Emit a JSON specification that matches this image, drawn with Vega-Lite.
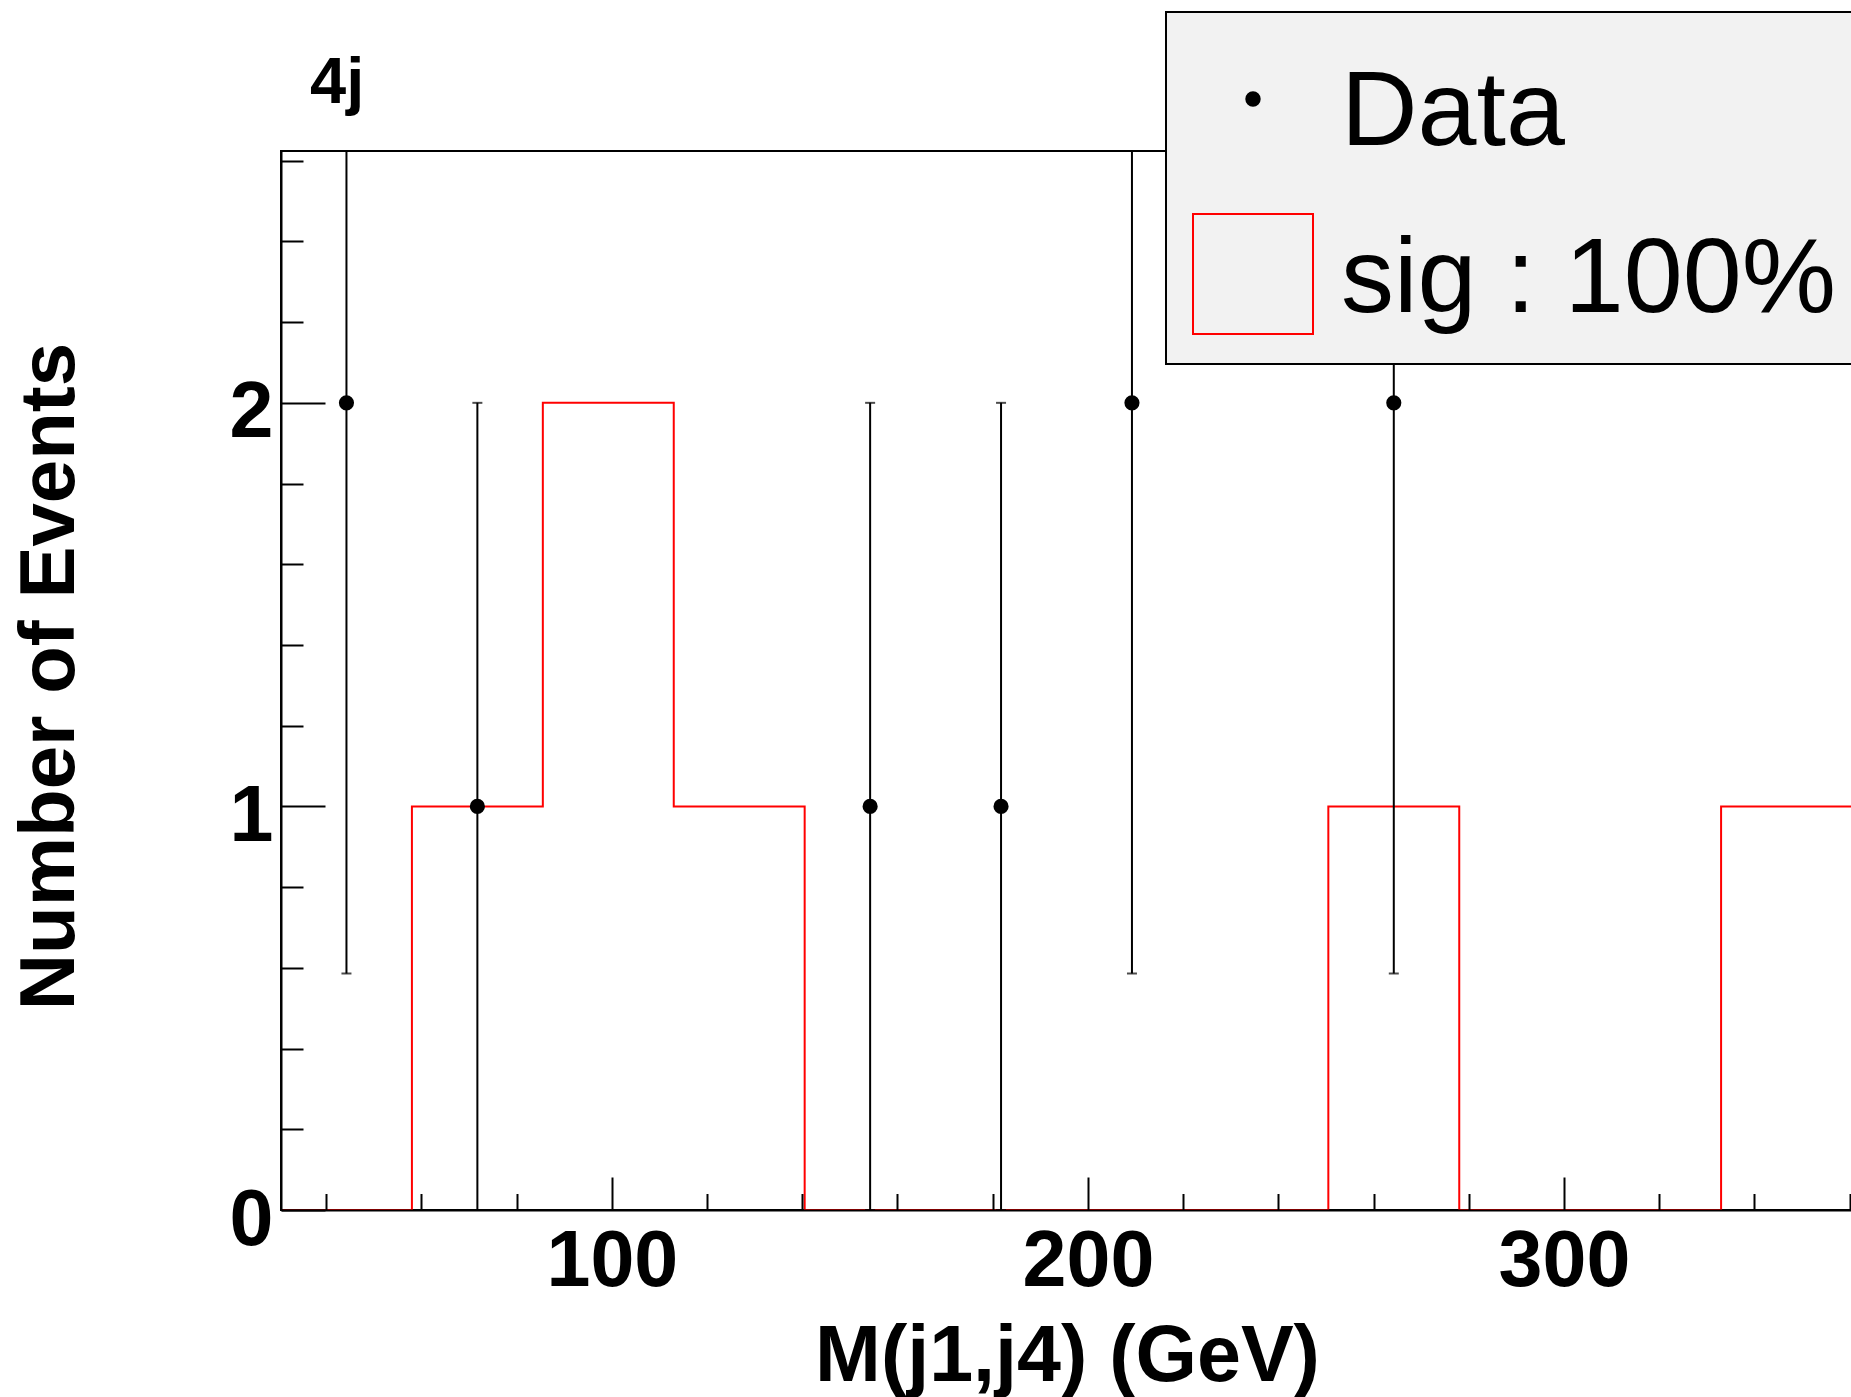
{
  "$schema": "https://vega.github.io/schema/vega-lite/v6.json",
  "width": 1571,
  "height": 1059,
  "autosize": {"type": "none"},
  "padding": {"left": 281, "top": 151, "right": 0, "bottom": 187},
  "background": "white",
  "config": {"view": {"stroke": "black", "strokeWidth": 2}, "font": "Liberation Sans"},
  "title": {"text": "4j", "anchor": "start", "frame": "group", "font": "Liberation Sans", "fontSize": 65, "fontWeight": "bold", "color": "black", "baseline": "alphabetic", "offset": 42, "dx": 29, "dy": 199},
  "datasets": {
    "sig": [
      {"m": 30.5, "n": 0}, {"m": 58, "n": 1}, {"m": 85.5, "n": 2}, {"m": 113, "n": 1},
      {"m": 140.5, "n": 0}, {"m": 168, "n": 0}, {"m": 195.5, "n": 0}, {"m": 223, "n": 0},
      {"m": 250.5, "n": 1}, {"m": 278, "n": 0}, {"m": 305.5, "n": 0}, {"m": 333, "n": 1},
      {"m": 360.5, "n": 1}
    ],
    "obs": [
      {"m": 44.25, "n": 2, "lo": 0.586, "hi": 3.414},
      {"m": 71.75, "n": 1, "lo": 0, "hi": 2},
      {"m": 154.25, "n": 1, "lo": 0, "hi": 2},
      {"m": 181.75, "n": 1, "lo": 0, "hi": 2},
      {"m": 209.25, "n": 2, "lo": 0.586, "hi": 3.414},
      {"m": 264.25, "n": 2, "lo": 0.586, "hi": 3.414}
    ]
  },
  "layer": [
    {
      "data": {"name": "sig"},
      "mark": {"type": "line", "interpolate": "step-after", "strokeWidth": 2, "clip": true},
      "encoding": {
        "x": {"field": "m", "type": "quantitative", "scale": {"domain": [30.5, 360.5], "nice": false, "zero": false},
          "axis": {"orient": "bottom", "values": [100, 200, 300], "tickSize": -33, "tickWidth": 2, "tickColor": "black", "domainColor": "black", "domainWidth": 2, "grid": false, "zindex": 1,
            "labelFont": "Liberation Sans", "labelFontSize": 79, "labelFontWeight": "bold", "labelColor": "black", "labelBaseline": "alphabetic", "labelPadding": 108, "labelFlush": false, "labelOverlap": false,
            "title": "M(j1,j4) (GeV)", "titleFont": "Liberation Sans", "titleFontSize": 79, "titleFontWeight": "bold", "titleColor": "black", "titleBaseline": "alphabetic", "titleAlign": "center", "titleX": 786, "titleY": 170}},
        "y": {"field": "n", "type": "quantitative", "scale": {"domain": [0, 2.624], "nice": false, "zero": false},
          "axis": {"orient": "left", "values": [0, 1, 2], "tickSize": -44, "tickWidth": 2, "tickColor": "black", "domainColor": "black", "domainWidth": 2, "grid": false, "zindex": 1,
            "labelFont": "Liberation Sans", "labelFontSize": 79, "labelFontWeight": "bold", "labelColor": "black", "labelAlign": "right", "labelBaseline": "alphabetic", "labelOffset": 34, "labelPadding": 52, "labelFlush": false, "labelOverlap": false,
            "title": "Number of Events", "titleFont": "Liberation Sans", "titleFontSize": 78, "titleFontWeight": "bold", "titleColor": "black", "titleAngle": 270, "titleAlign": "center", "titleBaseline": "alphabetic", "titleX": -208, "titleY": 525}},
        "color": {"datum": "sig : 100%", "type": "nominal",
          "scale": {"domain": ["Data", "sig : 100%"], "range": ["black", "red"]},
          "legend": {"orient": "none", "legendX": 885, "legendY": -139, "title": null,
            "fillColor": "#f2f2f2", "strokeColor": "black", "padding": 26,
            "labelFont": "Liberation Sans", "labelFontSize": 106, "labelFontWeight": "normal", "labelColor": "black", "labelOffset": 27, "labelLimit": 0,
            "symbolType": "square", "symbolSize": 14400, "symbolStrokeWidth": 2, "rowPadding": 44,
            "encode": {
              "legend": {"update": {"strokeWidth": {"value": 2}}},
              "labels": {"update": {"dy": {"signal": "datum.index === 0 ? 14 : 6"}}},
              "symbols": {"update": {
                "shape": {"signal": "datum.value === 'Data' ? 'circle' : 'square'"},
                "size": {"signal": "datum.value === 'Data' ? 180 : 14400"},
                "fill": {"signal": "datum.value === 'Data' ? 'black' : 'transparent'"},
                "fillOpacity": {"signal": "datum.value === 'Data' ? 1 : 0"},
                "stroke": {"signal": "datum.value === 'Data' ? 'black' : 'red'"},
                "strokeWidth": {"value": 2},
                "opacity": {"value": 1}
              }}
            }}}
      }
    },
    {
      "data": {"name": "obs"},
      "mark": {"type": "rule", "color": "black", "strokeWidth": 2, "clip": true},
      "encoding": {
        "x": {"field": "m", "type": "quantitative", "axis": null},
        "y": {"field": "lo", "type": "quantitative", "axis": null},
        "y2": {"field": "hi"}
      }
    },
    {
      "data": {"name": "obs"},
      "mark": {"type": "tick", "orient": "horizontal", "color": "black", "size": 10, "thickness": 2, "clip": true},
      "encoding": {
        "x": {"field": "m", "type": "quantitative", "axis": null},
        "y": {"field": "lo", "type": "quantitative", "axis": null}
      }
    },
    {
      "data": {"name": "obs"},
      "mark": {"type": "tick", "orient": "horizontal", "color": "black", "size": 10, "thickness": 2, "clip": true},
      "encoding": {
        "x": {"field": "m", "type": "quantitative", "axis": null},
        "y": {"field": "hi", "type": "quantitative", "axis": null}
      }
    },
    {
      "data": {"name": "obs"},
      "mark": {"type": "point", "filled": true, "size": 230, "opacity": 1},
      "encoding": {
        "x": {"field": "m", "type": "quantitative",
          "axis": {"orient": "bottom", "values": [40, 60, 80, 120, 140, 160, 180, 220, 240, 260, 280, 320, 340, 360], "tickSize": -16.5, "tickWidth": 2, "tickColor": "black", "labels": false, "domain": false, "grid": false, "title": null, "zindex": 1}},
        "y": {"field": "n", "type": "quantitative",
          "axis": {"orient": "left", "values": [0.2, 0.4, 0.6, 0.8, 1.2, 1.4, 1.6, 1.8, 2.2, 2.4, 2.6], "tickSize": -22, "tickWidth": 2, "tickColor": "black", "labels": false, "domain": false, "grid": false, "title": null, "zindex": 1}},
        "color": {"datum": "Data", "type": "nominal"}
      }
    }
  ],
  "resolve": {"axis": {"x": "independent", "y": "independent"}}
}
